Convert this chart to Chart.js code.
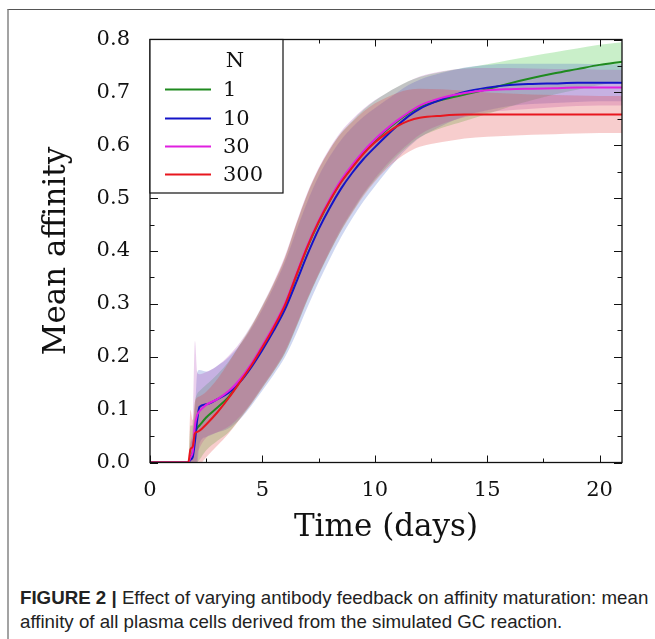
<!DOCTYPE html>
<html>
<head>
<meta charset="utf-8">
<script src="https://cdn.jsdelivr.net/npm/chart.js@4.4.1/dist/chart.umd.min.js"></script>
<style>
  html, body { margin: 0; padding: 0; background: #fff; }
  body { width: 655px; height: 639px; position: relative; overflow: hidden; }
  #frame { position: absolute; left: 7px; top: 9px; width: 700px; height: 700px;
           border-left: 2px solid #a3a3a3; border-top: 1px solid #555; }
  #chart { position: absolute; left: 0; top: 0; }
  .cap { position: absolute; left: 20px; font-family: "Liberation Sans", Arial, sans-serif;
         font-size: 19px; line-height: 20px; color: #222; white-space: nowrap; transform-origin: 0 0; }
  .cap b { font-weight: bold; }
</style>
</head>
<body>
<div id="frame"></div>
<canvas id="chart" width="655" height="560"></canvas>
<div class="cap" id="cap1" style="top:588px"><b>FIGURE 2 |</b> Effect of varying antibody feedback on affinity maturation: mean</div>
<div class="cap" id="cap2" style="top:612px">affinity of all plasma cells derived from the simulated GC reaction.</div>
<script>
// Time axis (days)
const days = [0, 1.7, 1.8, 1.9, 2.0, 2.1, 2.2, 2.5,
  3, 3.5, 4, 4.5, 5, 5.5, 6, 6.5, 7, 7.5, 8, 8.5, 9, 9.5, 10, 10.5, 11, 11.5, 12,
  13, 14, 15, 16, 17, 18, 19, 20, 21];

// Mean affinity per antibody feedback level N
const seriesNames = ['1', '10', '30', '300'];
const mean1 = [0, 0, 0.01, 0.02, 0.055, 0.065, 0.07, 0.085,
  0.104, 0.124, 0.153, 0.184, 0.219, 0.255, 0.296, 0.352, 0.407, 0.454, 0.495, 0.531, 0.56, 0.587, 0.609, 0.628, 0.645, 0.66, 0.672,
  0.686, 0.696, 0.706, 0.717, 0.727, 0.736, 0.744, 0.752, 0.758];
const mean10 = [0, 0, 0.005, 0.01, 0.04, 0.08, 0.105, 0.11,
  0.12, 0.132, 0.152, 0.18, 0.213, 0.249, 0.289, 0.34, 0.393, 0.441, 0.482, 0.518, 0.548, 0.574, 0.596, 0.617, 0.637, 0.655, 0.669,
  0.687, 0.701, 0.709, 0.714, 0.716, 0.717, 0.718, 0.718, 0.718];
const mean30 = [0, 0, 0.01, 0.02, 0.07, 0.09, 0.097, 0.109,
  0.12, 0.135, 0.157, 0.186, 0.221, 0.258, 0.3, 0.355, 0.41, 0.457, 0.498, 0.534, 0.563, 0.589, 0.611, 0.63, 0.647, 0.662, 0.675,
  0.69, 0.699, 0.704, 0.706, 0.707, 0.708, 0.709, 0.709, 0.709];
const mean300 = [0, 0, 0.025, 0.03, 0.055, 0.058, 0.06, 0.072,
  0.095, 0.122, 0.152, 0.183, 0.218, 0.255, 0.297, 0.353, 0.408, 0.455, 0.495, 0.53, 0.558, 0.584, 0.605, 0.622, 0.636, 0.646, 0.652,
  0.656, 0.658, 0.658, 0.658, 0.658, 0.658, 0.658, 0.658, 0.658];

// Standard deviation (shaded bands)
const sd1 = [0, 0, 0.06, 0.05, 0.06, 0.065, 0.065, 0.062,
  0.063, 0.067, 0.07, 0.073, 0.077, 0.083, 0.09, 0.097, 0.1, 0.1, 0.097, 0.092, 0.086, 0.08, 0.075, 0.07, 0.065, 0.061, 0.057,
  0.053, 0.05, 0.047, 0.044, 0.042, 0.04, 0.039, 0.038, 0.037];
const sd10 = [0, 0, 0.03, 0.04, 0.06, 0.09, 0.07, 0.062,
  0.063, 0.067, 0.07, 0.073, 0.077, 0.083, 0.09, 0.097, 0.1, 0.1, 0.097, 0.092, 0.086, 0.08, 0.074, 0.068, 0.063, 0.059, 0.055,
  0.05, 0.046, 0.043, 0.04, 0.038, 0.037, 0.036, 0.035, 0.035];
const sd30 = [0, 0, 0.03, 0.05, 0.16, 0.08, 0.07, 0.062,
  0.063, 0.067, 0.07, 0.073, 0.077, 0.083, 0.09, 0.097, 0.1, 0.1, 0.097, 0.092, 0.086, 0.08, 0.074, 0.068, 0.063, 0.059, 0.055,
  0.05, 0.046, 0.042, 0.04, 0.038, 0.036, 0.035, 0.034, 0.034];
const sd300 = [0, 0, 0.075, 0.05, 0.06, 0.065, 0.065, 0.062,
  0.063, 0.067, 0.07, 0.073, 0.077, 0.083, 0.09, 0.097, 0.1, 0.1, 0.097, 0.092, 0.086, 0.08, 0.074, 0.068, 0.063, 0.059, 0.055,
  0.05, 0.045, 0.042, 0.04, 0.038, 0.037, 0.036, 0.035, 0.035];

// Ticks
const xMajor = [0, 5, 10, 15, 20];
const xMinor = [2.5, 7.5, 12.5, 17.5];
const yMajor = [0, 0.1, 0.2, 0.3, 0.4, 0.5, 0.6, 0.7, 0.8];
const yMinor = [0.05, 0.15, 0.25, 0.35, 0.45, 0.55, 0.65, 0.75];

const lineColors = ['#1f8a1f', '#1414c8', '#e020e0', '#e8161e'];
const bandColors = ['rgba(40,190,40,0.25)', 'rgba(70,100,200,0.26)', 'rgba(170,60,180,0.24)', 'rgba(225,60,60,0.26)'];

const means = [mean1, mean10, mean30, mean300];
const sds = [sd1, sd10, sd30, sd300];
const serif = "'DejaVu Serif', serif";

const datasets = [];
means.forEach((m, i) => {
    datasets.push({
        label: 'upper' + i,
        data: days.map((d, k) => ({ x: d, y: m[k] + sds[i][k] })),
        fill: '+1', backgroundColor: bandColors[i], borderWidth: 0,
        pointRadius: 0, cubicInterpolationMode: 'monotone', order: 20 - i
    });
    datasets.push({
        label: 'lower' + i,
        data: days.map((d, k) => ({ x: d, y: m[k] - sds[i][k] })),
        fill: false, borderWidth: 0, pointRadius: 0,
        cubicInterpolationMode: 'monotone', order: 20 - i
    });
});
means.forEach((m, i) => {
    datasets.push({
        label: seriesNames[i],
        data: days.map((d, k) => ({ x: d, y: m[k] })),
        borderColor: lineColors[i], borderWidth: 2, fill: false,
        pointRadius: 0, cubicInterpolationMode: 'monotone', order: 4 - i
    });
});

// Inward ticks on all four sides, axes frame and the boxed legend
const frameAndLegend = {
    id: 'frameAndLegend',
    afterDatasetsDraw(chart) {
        const { ctx, chartArea: a, scales: { x, y } } = chart;
        ctx.save();
        ctx.strokeStyle = '#111';
        ctx.lineWidth = 1;
        ctx.beginPath();
        const xt = (vals, len) => vals.forEach(v => {
            const px = Math.round(x.getPixelForValue(v)) + 0.5;
            ctx.moveTo(px, a.bottom); ctx.lineTo(px, a.bottom - len);
            ctx.moveTo(px, a.top); ctx.lineTo(px, a.top + len);
        });
        const yt = (vals, len) => vals.forEach(v => {
            const py = Math.round(y.getPixelForValue(v)) + 0.5;
            ctx.moveTo(a.left, py); ctx.lineTo(a.left + len, py);
            ctx.moveTo(a.right, py); ctx.lineTo(a.right - len, py);
        });
        xt(xMajor, 7); xt(xMinor, 4);
        yt(yMajor, 8); yt(yMinor, 4.5);
        ctx.stroke();
        ctx.lineWidth = 1.3;
        ctx.strokeRect(a.left, a.top, a.right - a.left, a.bottom - a.top);

        // legend
        const lx = a.left, ly = a.top;
        ctx.fillStyle = '#fff';
        ctx.fillRect(lx, ly, 133, 153.5);
        ctx.lineWidth = 1.2;
        ctx.strokeRect(lx, ly, 133, 153.5);
        ctx.fillStyle = '#111';
        ctx.font = '21px ' + serif;
        ctx.textBaseline = 'middle';
        ctx.textAlign = 'center';
        ctx.fillText('N', lx + 85, ly + 22);
        ctx.textAlign = 'left';
        const rows = [50, 79, 107, 135];
        seriesNames.forEach((name, i) => {
            ctx.strokeStyle = lineColors[i];
            ctx.lineWidth = 2;
            ctx.beginPath();
            ctx.moveTo(lx + 15, ly + rows[i]);
            ctx.lineTo(lx + 61, ly + rows[i]);
            ctx.stroke();
            ctx.fillText(name, lx + 73, ly + rows[i] + 1);
        });
        ctx.restore();
    }
};

new Chart(document.getElementById('chart'), {
    type: 'line',
    data: { datasets },
    options: {
        responsive: false,
        animation: false,
        devicePixelRatio: 1,
        layout: { padding: { top: 39.5, right: 33, left: 0, bottom: 0 } },
        plugins: { legend: { display: false }, tooltip: { enabled: false } },
        scales: {
            x: {
                type: 'linear', min: 0, max: 21,
                afterBuildTicks: s => { s.ticks = xMajor.map(v => ({ value: v })); },
                afterFit: s => { s.height = 97.5; },
                grid: { display: false, drawTicks: false },
                border: { display: false },
                ticks: { font: { family: serif, size: 21 }, color: '#111', padding: 15, maxRotation: 0, autoSkip: false },
                title: { display: true, text: 'Time (days)', color: '#111',
                         font: { family: serif, size: 31 }, padding: { top: 0, bottom: 13 } }
            },
            y: {
                min: 0, max: 0.8,
                afterBuildTicks: s => { s.ticks = yMajor.map(v => ({ value: v })); },
                afterFit: s => { s.width = 150; },
                grid: { display: false, drawTicks: false },
                border: { display: false },
                ticks: { font: { family: serif, size: 21 }, color: '#111', padding: 20,
                         callback: v => v.toFixed(1) },
                title: { display: true, text: 'Mean affinity', color: '#111',
                         font: { family: serif, size: 31 }, padding: { top: 38, bottom: 0 } }
            }
        }
    },
    plugins: [frameAndLegend]
});

// fit caption lines to the column width
const cap1 = document.getElementById('cap1');
const cap2 = document.getElementById('cap2');
const k = 628 / cap1.scrollWidth;
cap1.style.transform = 'scaleX(' + k + ')';
cap2.style.transform = 'scaleX(' + k + ')';
</script>
</body>
</html>
